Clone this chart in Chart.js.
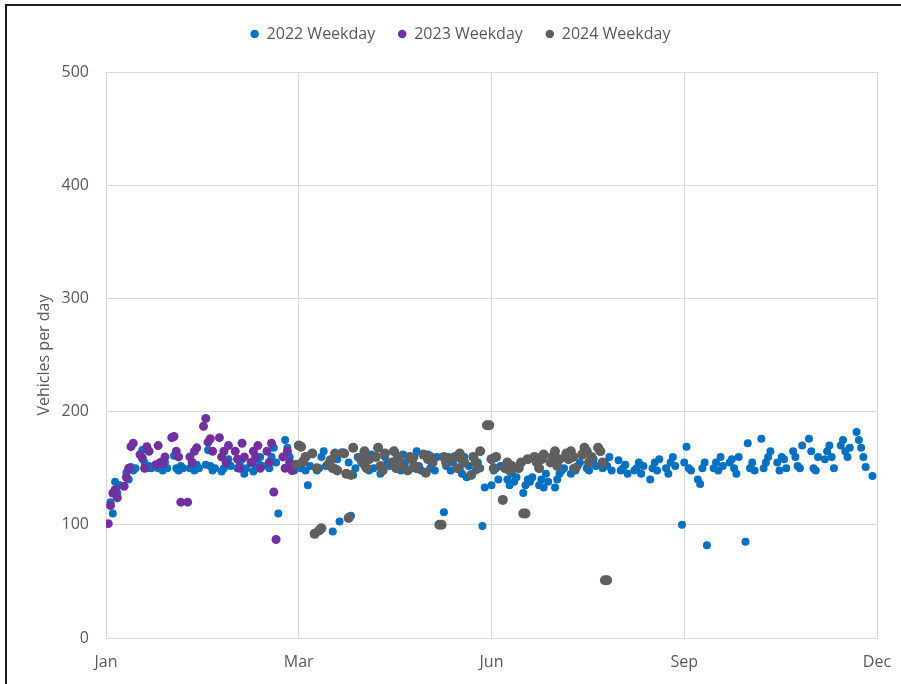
<!DOCTYPE html>
<html>
<head>
<meta charset="utf-8">
<script src="https://cdn.jsdelivr.net/npm/chart.js@4.4.1/dist/chart.umd.min.js"></script>
<style>
  html, body { margin: 0; padding: 0; background: #ffffff; }
  #wrap { position: relative; width: 901px; height: 684px; }
  canvas { display: block; }
</style>
</head>
<body>
<div id="wrap"><canvas id="chart" width="901" height="684"></canvas></div>
<script>
// X axis: day offset from 1 Jan, ticks every 85 days
const tickLabels = ['Jan', 'Mar', 'Jun', 'Sep', 'Dec'];
const tickStep = 85;
const seriesNames = ['2022 Weekday', '2023 Weekday', '2024 Weekday'];

// First Monday of each series (day offset on the x axis)
const start2022 = 2;
const start2023 = 1;
const start2024 = 84;

// Weekday counts, Mon..Fri per row
const weekday2022 = [
  120, 110, 138, 128, 135,
  146, 140, 151, 148, 150,
  166, 155, 150, 152, 150,
  150, 152, 148, 155, 150,
  161, 150, 148, 152, 150,
  150, 155, 148, 153, 150,
  153, 166, 152, 148, 150,
  147, 150, 155, 158, 152,
  150, 153, 158, 145, 150,
  147, 150, 155, 160, 152,
  150, 160, 168, 155, 110,
  175, 168, 160, 152, 148,
  150, 155, 148, 135, 152,
  148, 150, 160, 165, 152,
   94, 150, 158, 103, 164,
  155, 108, 144, 150, 160,
  152, 158, 148, 162, 150,
  145, 150, 160, 155, 152,
  158, 150, 148, 162, 155,
  150, 160, 165, 152, 148,
  162, 150, 155, 148, 160,
  111, 152, 160, 148, 155,
  150, 145, 160, 142, 152,
  148, 155, 150,  99, 133,
  135, 148, 150, 140, 152,
  140, 135, 145, 138, 142,
  128, 135, 140, 138, 142,
  135, 140, 133, 145, 138,
  133, 140, 145, 148, 150,
  145, 150, 148, 152, 155,
  150, 148, 155, 158, 152,
  150, 155, 152, 160, 148,
  157, 148, 150, 153, 145,
  148, 150, 155, 145, 152,
  140, 150, 155, 148, 158,
  150, 145, 155, 160, 152,
  100, 155, 169, 150, 148,
  140, 136, 150, 155,  82,
  150, 155, 148, 160, 152,
  155, 158, 150, 145, 160,
   85, 172, 150, 155, 148,
  176, 150, 155, 160, 165,
  155, 148, 160, 158, 150,
  165, 160, 152, 150, 170,
  176, 165, 150, 148, 160,
  158, 165, 170, 160, 150,
  170, 175, 165, 160, 168,
  182, 175, 168, 160, 151,
  143
];

const weekday2023 = [
  101, 117, 128, 131, 124,
  134, 142, 150, 169, 172,
  162, 159, 150, 169, 165,
  153, 170, 155, 154, 160,
  177, 178, 165, 160, 120,
  120, 160, 155, 165, 168,
  187, 194, 173, 176, 165,
  177, 160, 165, 155, 170,
  165, 158, 150, 172, 160,
  155, 165, 160, 170, 150,
  165, 155, 172, 129,  87,
  160, 150, 165, 155, 148
];

const weekday2024 = [
  153, 170, 169, 156, 160,
  163,  92, 150,  95,  97,
  153, 157, 150, 163, 148,
  163, 145, 106, 144, 168,
  159, 155, 165, 150, 158,
  160, 168, 152, 148, 163,
  155, 165, 150, 160, 152,
  148, 160, 158, 152, 150,
  162, 146, 158, 160, 155,
  100, 100, 160, 155, 158,
  160, 150, 163, 158, 155,
  144, 160, 155, 150, 165,
  188, 188, 158, 150, 160,
  122, 150, 155, 148, 152,
  150, 155, 110, 110, 158,
  160, 155, 150, 158, 162,
  155, 160, 165, 152, 158,
  163, 158, 165, 160, 150,
  162, 168, 165, 155, 160,
  168, 165, 155,  51,  51
];

const yTicks = { min: 0, max: 500, step: 100 };

// Pair each weekday value with its calendar day (weekends skipped)
function toPoints(startMonday, values) {
  return values.map((v, i) => ({
    x: startMonday + 7 * Math.floor(i / 5) + (i % 5),
    y: v
  }));
}

const textColor = '#595959';
const gridColor = '#d9d9d9';
const baseFont = { family: "'Open Sans', 'Noto Sans', sans-serif", size: 16 };

// Extra space below the legend, and legend nudged right
const legendPlacement = {
  id: 'legendPlacement',
  beforeInit(chart) {
    const legend = chart.legend;
    const fit = legend.fit;
    legend.fit = function () {
      fit.call(this);
      this.height += 20;
    };
  },
  afterLayout(chart) {
    chart.legend.left += 22;
    chart.legend.right += 22;
  }
};

// Dark frame along the top and left edges
const frame = {
  id: 'frame',
  afterDraw(chart) {
    const ctx = chart.ctx;
    ctx.save();
    ctx.fillStyle = '#1f1f1f';
    ctx.fillRect(5, 4, 2, 680);
    ctx.fillRect(5, 4, 896, 2);
    ctx.restore();
  }
};

new Chart(document.getElementById('chart'), {
  type: 'scatter',
  data: {
    datasets: [
      {
        label: seriesNames[0],
        data: toPoints(start2022, weekday2022),
        backgroundColor: '#0070c0',
        borderColor: '#0070c0',
        pointRadius: 4,
        pointHoverRadius: 4,
        pointBorderWidth: 0,
        order: 2
      },
      {
        label: seriesNames[1],
        data: toPoints(start2023, weekday2023),
        backgroundColor: '#7030a0',
        borderColor: '#7030a0',
        pointRadius: 4.5,
        pointHoverRadius: 4.5,
        pointBorderWidth: 0,
        order: 1
      },
      {
        label: seriesNames[2],
        data: toPoints(start2024, weekday2024),
        backgroundColor: '#5f5f5f',
        borderColor: '#5f5f5f',
        pointRadius: 5,
        pointHoverRadius: 5,
        pointBorderWidth: 0,
        order: 0
      }
    ]
  },
  options: {
    responsive: false,
    animation: false,
    devicePixelRatio: 1,
    layout: { padding: { left: 0, right: 24, top: 3, bottom: 0 } },
    plugins: {
      tooltip: { enabled: false },
      legend: {
        position: 'top',
        align: 'center',
        labels: {
          usePointStyle: true,
          pointStyle: 'circle',
          boxWidth: 8,
          boxHeight: 6,
          padding: 23,
          color: textColor,
          font: baseFont,
          sort: (a, b) => a.datasetIndex - b.datasetIndex
        }
      }
    },
    scales: {
      x: {
        type: 'linear',
        min: 0,
        max: tickStep * (tickLabels.length - 1),
        grid: { color: gridColor, lineWidth: 1, drawTicks: false },
        border: { color: gridColor, width: 1 },
        ticks: {
          stepSize: tickStep,
          autoSkip: false,
          maxRotation: 0,
          padding: 15,
          color: textColor,
          font: baseFont,
          callback: (v) => tickLabels[Math.round(v / tickStep)]
        },
        afterFit(scale) {
          scale.height = 46;
          scale.paddingLeft = 0;
          scale.paddingRight = 0;
        }
      },
      y: {
        min: yTicks.min,
        max: yTicks.max,
        grid: { color: gridColor, lineWidth: 1, drawTicks: false },
        border: { color: gridColor, width: 1 },
        ticks: {
          stepSize: yTicks.step,
          padding: 17,
          color: textColor,
          font: baseFont
        },
        title: {
          display: true,
          text: 'Vehicles per day',
          color: textColor,
          font: baseFont,
          padding: { top: 35, bottom: 0 }
        },
        afterFit(scale) { scale.width = 106; }
      }
    }
  },
  plugins: [legendPlacement, frame]
});
</script>
</body>
</html>
